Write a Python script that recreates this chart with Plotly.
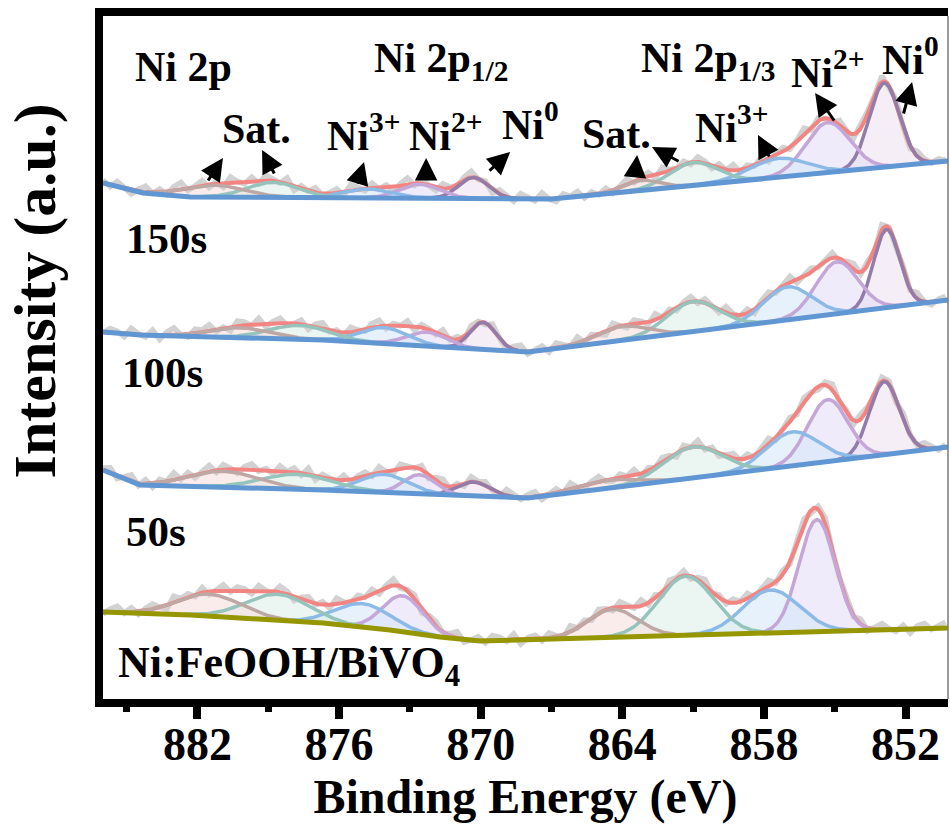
import numpy as np
import plotly.graph_objects as go

# ---------------- data ----------------
# Energy axis (eV) limits and tick labels
x_left, x_right = 886.0, 850.2
major_ticks = [882, 876, 870, 864, 858, 852]
minor_ticks = [885, 879, 873, 867, 861, 855]

# Component kinds: Ni0, Ni2+, Ni3+, satellite (green), satellite (brown)
# --- top spectrum (under "Ni 2p")
top_centers = [852.9, 855.3, 857.4, 861.0, 863.2, 870.3, 872.6, 874.8, 878.8, 881.3]
top_heights = [84, 50, 19, 23, 10, 21, 14, 9, 15, 12]
top_fwhm = [1.5, 2.2, 2.8, 2.4, 1.8, 1.5, 2.0, 2.4, 2.6, 3.0]
top_kinds = ["Ni0", "Ni2", "Ni3", "SatG", "SatB", "Ni0", "Ni2", "Ni3", "SatG", "SatB"]
top_base_ev = [886.0, 884.3, 882.3, 867.0, 850.2]
top_base_int = [516, 506, 502, 500, 538]

# --- 150s
s150_centers = [852.8, 854.9, 857.0, 861.0, 864.0, 869.9, 872.3, 874.1, 877.7, 880.2]
s150_heights = [78, 52, 33, 30, 14, 27, 14, 16, 14, 10]
s150_fwhm = [1.3, 2.1, 2.4, 2.6, 2.5, 1.3, 2.0, 2.4, 3.0, 3.0]
s150_kinds = ["Ni0", "Ni2", "Ni3", "SatG", "SatB", "Ni0", "Ni2", "Ni3", "SatG", "SatB"]
s150_base_ev = [886.0, 884.43, 876.68, 868.0, 850.2]
s150_base_int = [367, 364, 359, 347, 399]

# --- 100s
s100_centers = [852.9, 855.3, 856.8, 861.0, 864.6, 870.3, 872.6, 874.1, 877.8, 880.9]
s100_heights = [73, 62, 34, 31, 8, 14, 19, 18, 15, 16]
s100_fwhm = [1.5, 2.0, 2.6, 2.9, 3.0, 1.6, 1.6, 2.4, 3.5, 3.5]
s100_kinds = ["Ni0", "Ni2", "Ni3", "SatG", "SatB", "Ni0", "Ni2", "Ni3", "SatG", "SatB"]
s100_base_ev = [886.0, 884.43, 876.68, 868.0, 850.2]
s100_base_int = [229, 214, 209, 201, 252]

# --- 50s
s50_centers = [855.75, 857.7, 861.3, 864.4, 873.3, 875.0, 878.6, 881.5]
s50_heights = [112, 43, 59, 28, 36, 23.5, 26, 22]
s50_fwhm = [1.8, 2.8, 2.75, 2.5, 2.0, 2.8, 3.2, 3.2]
s50_kinds = ["Ni2", "Ni3", "SatG", "SatB", "Ni2", "Ni3", "SatG", "SatB"]
s50_base_ev = [886.0, 882.31, 876.68, 873.84, 871.72, 870.03, 850.2]
s50_base_int = [87, 84, 76, 69, 62, 58, 71]

# Raw-data residuals around the fitted envelope (readings every 0.3 eV from 886.0 eV)
raw_start, raw_step = 886.0, 0.3
top_res = [
    3, -2, 5, 0, -4, 2, 6, -1, 3, -3, 4, 7,
    -2, 1, 5, -3, 2, -4, 6, 1, -2, 4, -3, 5,
    2, -1, 6, -4, 3, 0, 5, -2, 1, 4, -3, 6,
    2, -2, 5, -1, 3, -4, 2, 6, -2, 4, 0, -3,
    5, 1, -2, 3, 6, -1, 2, -4, 4, 1, -3, 5,
    2, -2, 6, 0, -3, 4, 1, 5, -2, 3, -1, 4,
    -3, 2, 5, -2, 0, 4, -3, 6, 1, -1, 3, -2,
    5, 2, -3, 4, 0, 6, -2, 3, -1, 5, -3, 2,
    4, -2, 1, 6, -3, 3, 0, -2, 5, 1, -4, 3,
    2, -1, 6, -2, 4, 0, -3, 5, 2, -1, 3, 1,
]
s150_res = [
    -1, 4, 2, -3, 6, 1, -2, 5, -4, 3, 7, 0,
    -3, 4, 2, 6, -2, 1, -4, 5, 3, -1, 6, -3,
    2, 5, -2, 0, 4, -4, 3, 6, -1, 2, -3, 5,
    1, -2, 4, 6, -3, 2, 0, 5, -4, 3, 1, -2,
    6, -1, 3, -3, 4, 2, -2, 5, 0, -4, 3, 6,
    -2, 1, 4, -3, 5, 2, -1, 6, -2, 3, 0, -4,
    5, 1, -3, 4, 2, -2, 6, -1, 3, -3, 2, 5,
    -2, 4, 0, -3, 6, 1, -1, 4, -4, 3, 5, -2,
    1, 6, -3, 2, 4, -1, 0, 5, -3, 2, 6, -2,
    3, -4, 5, 1, -2, 4, -1, 6, 0, -3, 2, 4,
]
s100_res = [
    2, 5, -3, 1, 6, -2, 4, -4, 3, 0, 7, -1,
    4, -3, 2, 6, -2, 5, 1, -4, 3, 6, -1, 2,
    -3, 5, 0, 4, -2, 6, -4, 3, 1, -1, 5, -3,
    2, 4, -2, 6, 0, -3, 5, 1, -1, 4, -4, 3,
    6, -2, 2, -3, 5, 1, 4, -1, -3, 6, 2, -2,
    3, 5, -4, 1, 4, -2, 6, 0, -3, 2, 5, -1,
    -2, 4, 1, 6, -3, 3, -1, 5, 2, -4, 4, 0,
    6, -2, 3, -3, 1, 5, -1, 4, -2, 2, 6, -3,
    0, 4, -2, 5, 1, -3, 3, 6, -1, 2, -4, 5,
    1, -2, 4, 3, -3, 6, 0, -1, 5, 2, -2, 3,
]
s50_res = [
    -2, 3, 6, -1, 4, -3, 2, 5, 0, -4, 6, 1,
    3, -2, 5, -3, 1, 6, -1, 4, 2, -3, 5, 0,
    -2, 6, 3, -4, 2, 5, -1, 3, -3, 6, 1, -2,
    4, 0, 5, -3, 2, 6, -2, 1, 4, -4, 3, 5,
    -1, 2, 6, -3, 0, 4, -2, 5, 3, -1, 6, -4,
    2, 4, -2, 5, 1, -3, 6, 0, 3, -2, 4, 1,
    -3, 5, 2, -1, 6, -2, 3, -4, 4, 1, 5, -3,
    2, 6, -1, 3, -2, 4, 0, 5, -3, 2, 6, -1,
    4, -2, 1, 5, -3, 3, 6, -2, 0, 4, -1, 5,
    -3, 2, 6, 1, -2, 4, -4, 3, 5, -1, 2, 6,
]

# ---------------- styles ----------------
FONT = "Liberation Serif"
line_col = {"Ni0": "rgb(146,124,170)", "Ni2": "rgb(196,166,216)", "Ni3": "rgb(140,186,230)",
            "SatG": "rgb(150,196,188)", "SatB": "rgb(190,168,165)"}
fill_col = {"Ni0": "rgba(238,226,240,0.6)", "Ni2": "rgba(228,222,248,0.6)", "Ni3": "rgba(214,232,250,0.6)",
            "SatG": "rgba(222,238,234,0.6)", "SatB": "rgba(246,224,222,0.6)"}
env_col = "rgb(242,132,130)"
raw_col = "rgb(210,210,210)"

spectra = [
    (top_centers, top_heights, top_fwhm, top_kinds, top_base_ev, top_base_int, top_res, "rgb(96,150,210)"),
    (s150_centers, s150_heights, s150_fwhm, s150_kinds, s150_base_ev, s150_base_int, s150_res, "rgb(96,150,210)"),
    (s100_centers, s100_heights, s100_fwhm, s100_kinds, s100_base_ev, s100_base_int, s100_res, "rgb(96,150,210)"),
    (s50_centers, s50_heights, s50_fwhm, s50_kinds, s50_base_ev, s50_base_int, s50_res, "rgb(150,150,0)"),
]

xg = np.linspace(x_left, x_right, 900)
xinc = xg[::-1]


def gauss(x, c, h, w):
    s = w / 2.3548
    return h * np.exp(-(x - c) ** 2 / (2 * s * s))


fig = go.Figure()
for cen, hei, fw, kinds, bev, bint, res, bcol in spectra:
    base = np.interp(xg, bev[::-1], bint[::-1])
    comps = [gauss(xg, c, h, w) for c, h, w in zip(cen, hei, fw)]
    env = base + np.sum(comps, axis=0)
    # fills
    for comp, k in zip(comps, kinds):
        m = comp > 0.15
        xs = xg[m]
        top = (base + comp)[m]
        bot = base[m]
        fig.add_trace(go.Scatter(x=np.concatenate([xs, xs[::-1]]), y=np.concatenate([top, bot[::-1]]),
                                 fill="toself", fillcolor=fill_col[k], line=dict(width=0),
                                 mode="lines", hoverinfo="skip", showlegend=False))
    # raw data
    rx = raw_start - raw_step * np.arange(len(res))
    ry = np.interp(rx, xinc, env[::-1]) + np.array(res)
    fig.add_trace(go.Scatter(x=rx, y=ry, mode="lines", line=dict(color=raw_col, width=5.5),
                             showlegend=False, hoverinfo="skip"))
    # envelope
    fig.add_trace(go.Scatter(x=xg, y=env, mode="lines", line=dict(color=env_col, width=4),
                             showlegend=False))
    # components
    for comp, k in zip(comps, kinds):
        m = comp > 0.3
        fig.add_trace(go.Scatter(x=xg[m], y=(base + comp)[m], mode="lines",
                                 line=dict(color=line_col[k], width=3.5), showlegend=False))
    # baseline
    fig.add_trace(go.Scatter(x=bev, y=bint, mode="lines", line=dict(color=bcol, width=5),
                             showlegend=False))

# ---------------- annotations ----------------
texts = [
    ("Ni 2p", 882.61, 632, 42),
    ("Ni 2p<sub>1/2</sub>", 871.66, 638, 42),
    ("Ni 2p<sub>1/3</sub>", 860.35, 638, 42),
    ("Sat.", 879.5, 570, 42),
    ("Ni<sup>3+</sup>", 874.96, 567, 42),
    ("Ni<sup>2+</sup>", 871.51, 567, 42),
    ("Ni<sup>0</sup>", 867.89, 578, 42),
    ("Sat.", 864.24, 565, 42),
    ("Ni<sup>3+</sup>", 859.37, 575, 42),
    ("Ni<sup>2+</sup>", 855.30, 630, 42),
    ("Ni<sup>0</sup>", 851.81, 643, 42),
    ("150s", 883.33, 461, 43),
    ("100s", 883.46, 327, 43),
    ("50s", 883.75, 168, 43),
    ("Ni:FeOOH/BiVO<sub>4</sub>", 878.10, 34, 44),
]
for t, xx, yy, fs in texts:
    fig.add_annotation(x=xx, y=yy, text=t, showarrow=False,
                       font=dict(family=FONT, size=fs, color="black", weight="bold"),
                       xanchor="center", yanchor="middle")

# arrows: (tail eV, tail int, head eV, head int)
arrows = [
    (881.59, 517, 880.92, 541),
    (878.71, 524, 879.26, 549),
    (875.24, 514, 874.94, 537),
    (872.31, 521, 872.31, 541),
    (869.69, 527, 868.75, 547),
    (863.46, 522, 863.37, 544),
    (861.55, 537, 862.74, 552),
    (857.74, 541, 858.25, 564),
    (854.98, 577, 855.83, 606),
    (852.10, 584, 851.72, 617),
]
for tx, ty, hx, hy in arrows:
    fig.add_annotation(x=hx, y=hy, ax=tx, ay=ty, xref="x", yref="y", axref="x", ayref="y",
                       text="", showarrow=True, arrowhead=2, arrowsize=1.5, arrowwidth=3,
                       arrowcolor="black", standoff=0, startstandoff=0)

# y-axis title
fig.add_annotation(x=-0.080, y=408, xref="paper", yref="y", text="Intensity (a.u.)",
                   textangle=-90, showarrow=False, xanchor="center", yanchor="middle",
                   font=dict(family=FONT, size=60, color="black", weight="bold"))

fig.add_shape(type="line", xref="paper", yref="paper", x0=1, x1=1, y0=0, y1=1,
              line=dict(color="rgb(120,120,120)", width=1.5))

fig.update_layout(
    width=950, height=837,
    margin=dict(l=103, r=2, t=16, b=138),
    paper_bgcolor="white", plot_bgcolor="white",
    showlegend=False,
    xaxis=dict(range=[x_left, x_right], tickvals=major_ticks, ticks="outside", ticklen=12,
               tickwidth=8, tickcolor="black", showline=True, linewidth=8, linecolor="black",
               mirror=True, showgrid=False, zeroline=False, ticklabelstandoff=-14,
               tickfont=dict(family=FONT, size=46, color="black", weight="bold"),
               minor=dict(tickvals=minor_ticks, ticks="outside", ticklen=5, tickwidth=7,
                          tickcolor="black"),
               title=dict(text="Binding Energy (eV)", standoff=10,
                          font=dict(family=FONT, size=48, color="black", weight="bold"))),
    yaxis=dict(range=[0, 683], showticklabels=False, ticks="", showline=True, linewidth=8,
               linecolor="black", mirror=False, showgrid=False, zeroline=False),
)

fig.write_html("out.html")
